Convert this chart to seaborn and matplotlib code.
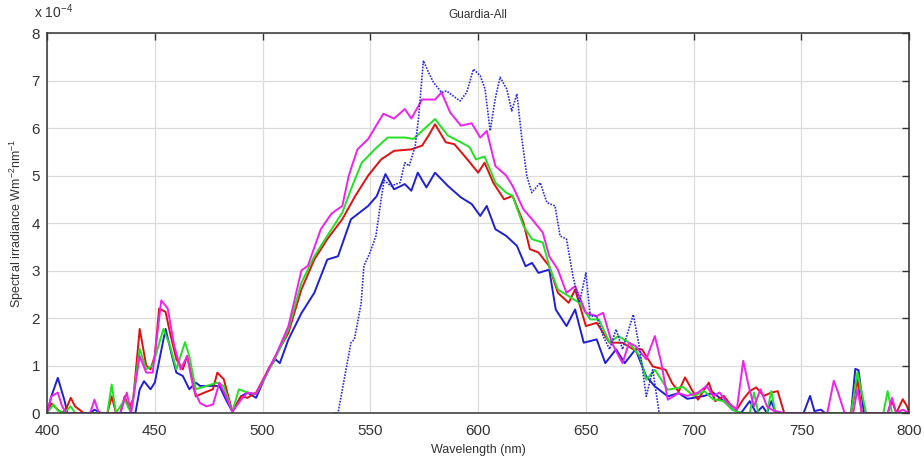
import numpy as np
import pandas as pd
import matplotlib
matplotlib.use("Agg")
import matplotlib.pyplot as plt
import seaborn as sns

# ---- data (spectral irradiance in units of 1e-4 W m^-2 nm^-1) ----
wl_blue = [400, 402, 405, 408, 409.5, 420, 422, 425, 441, 443, 445, 448, 450, 455, 458, 460, 463, 466, 469,
           471, 476, 480, 483, 486, 490, 493, 497, 503, 506, 508, 512, 518, 524, 530, 535, 541, 549, 553, 557,
           561, 566, 569, 572, 576, 580, 586, 592, 597, 601, 604, 608, 613, 618, 622, 625, 628, 633, 636, 641,
           645, 649, 655, 659, 664, 668, 673, 678, 682, 688, 693, 697, 700, 705, 709, 714, 718, 722, 726, 729,
           732, 734, 736, 738, 751, 754, 756, 759, 761, 773, 775, 776.5, 779, 800]
blue = [0, 0.35, 0.74, 0.28, 0, 0, 0.07, 0, 0, 0.5, 0.67, 0.5, 0.64, 1.77, 1.2, 0.85, 0.78, 0.5, 0.64,
        0.57, 0.57, 0.57, 0.28, 0.03, 0.35, 0.43, 0.32, 0.95, 1.13, 1.05, 1.55, 2.1, 2.53, 3.23, 3.3, 4.08, 4.36, 4.57, 5.03,
        4.71, 4.82, 4.68, 5.06, 4.75, 5.06, 4.78, 4.54, 4.4, 4.15, 4.36, 3.87, 3.73, 3.52, 3.09, 3.16, 2.95, 3.02, 2.18, 1.83,
        2.18, 1.48, 1.55, 1.05, 1.34, 1.05, 1.34, 0.77, 0.56, 0.35, 0.42, 0.3, 0.32, 0.36, 0.43, 0.25, 0.07, 0, 0.25, 0,
        0.14, 0, 0.25, 0, 0, 0.36, 0.04, 0.07, 0, 0, 0.93, 0.9, 0, 0]

wl_red = [400, 402, 405, 407, 409, 411, 413, 417, 428, 430, 432, 434, 436, 438, 440, 443, 446, 448, 450, 452,
          455, 457, 460, 463, 465, 467, 469, 473, 477, 479, 482, 486, 490, 493, 497, 506, 512, 518, 524, 530,
          537, 543, 549, 555, 561, 569, 574, 577, 580, 585, 589, 595, 600, 603, 607, 612, 616, 621, 624, 628,
          633, 637, 642, 645, 650, 655, 661, 667, 672, 676, 681, 687, 690, 693, 696, 699, 702, 707, 710, 714,
          717, 720, 723, 726, 729, 732.5, 736, 739, 742, 773, 776, 778, 790, 792, 794, 797, 799, 800]
red = [0, 0.2, 0.07, 0, 0.1, 0.32, 0.14, 0, 0, 0.35, 0, 0, 0.35, 0.1, 0.3, 1.77, 1.0, 0.92, 1.2, 2.2,
       2.13, 1.7, 1.13, 0.92, 1.2, 0.78, 0.35, 0.43, 0.5, 0.85, 0.71, 0.03, 0.35, 0.32, 0.43, 1.2, 1.69, 2.6, 3.23, 3.66,
       4.08, 4.57, 5.0, 5.34, 5.52, 5.55, 5.63, 5.84, 6.08, 5.7, 5.66, 5.34, 5.06, 5.27, 4.85, 4.5, 4.57, 4.01, 3.45, 3.38,
       3.09, 2.53, 2.32, 2.6, 1.83, 1.9, 1.48, 1.48, 1.34, 1.34, 0.98, 0.91, 0.63, 0.45, 0.75, 0.5, 0.28, 0.64, 0.25, 0.36,
       0.18, 0.07, 0.29, 0.46, 0.54, 0.36, 0.43, 0.46, 0, 0, 0.71, 0, 0, 0.25, 0, 0.29, 0.14, 0]

wl_green = [400, 403, 405, 408, 411, 413, 428, 430, 432, 436, 439, 443, 446, 449, 454, 457, 460, 464, 466, 469,
            474, 479, 482, 486, 489, 493, 497, 506, 512, 518, 524, 530, 537, 541, 546, 552, 558, 566, 570, 575,
            580, 586, 592, 596, 599, 603, 608, 613, 616, 621, 625, 630, 633, 637, 642, 647, 652, 656, 661, 665,
            670, 675, 678, 682, 688, 695, 700, 705, 709, 714, 718, 722, 726, 728, 730, 734, 736, 738, 773, 776,
            780, 788, 790, 792, 800]
green = [0, 0.18, 0.05, 0, 0.14, 0, 0, 0.6, 0, 0.28, 0, 1.35, 0.92, 1.0, 1.77, 1.42, 0.92, 1.49, 1.2, 0.5,
         0.57, 0.64, 0.57, 0.03, 0.5, 0.43, 0.4, 1.16, 1.76, 2.74, 3.3, 3.73, 4.22, 4.71, 5.27, 5.55, 5.8, 5.8, 5.77, 5.98,
         6.19, 5.84, 5.7, 5.6, 5.34, 5.4, 4.85, 4.64, 4.57, 3.94, 3.66, 3.59, 3.09, 2.6, 2.46, 2.32, 1.97, 1.97, 1.48, 1.62,
         1.48, 1.2, 0.7, 0.91, 0.49, 0.55, 0.36, 0.46, 0.29, 0.25, 0.07, 0, 0, 0.43, 0, 0, 0.46, 0, 0, 0.86,
         0, 0, 0.46, 0, 0]

wl_magenta = [400, 402, 405, 407, 409, 420, 422, 424, 434, 437, 439, 443, 446, 449, 453, 456, 459, 462, 465, 468,
              471, 474, 477, 480, 483, 486, 490, 493, 497, 506, 512, 518, 521, 527, 532, 537, 540, 544, 549, 556,
              561, 566, 569, 574, 580, 583, 587, 592, 597, 601, 604, 608, 613, 616, 621, 625, 630, 633, 637, 641,
              645, 650, 655, 658, 662, 667, 670, 673, 678, 682, 685, 688, 693, 697, 702, 706, 709, 712, 715, 720,
              723, 725.5, 728, 731, 734, 737, 742, 762, 765, 767, 770, 774, 776, 778, 790, 792, 794, 797, 800]
magenta = [0, 0.35, 0.43, 0.14, 0, 0, 0.28, 0, 0, 0.43, 0, 1.2, 0.85, 0.85, 2.37, 2.2, 1.42, 0.92, 1.2, 0.5,
           0.21, 0.14, 0.18, 0.64, 0.35, 0.03, 0.28, 0.43, 0.4, 1.2, 1.83, 3.0, 3.1, 3.87, 4.2, 4.36, 5.0, 5.55, 5.77, 6.3,
           6.2, 6.4, 6.2, 6.6, 6.6, 6.75, 6.33, 6.05, 6.1, 5.8, 5.94, 5.2, 5.0, 4.78, 4.29, 4.08, 3.8, 3.3, 3.02, 2.53,
           2.67, 2.11, 2.04, 2.11, 1.48, 1.05, 1.48, 1.41, 1.13, 1.62, 1.05, 0.28, 0.42, 0.36, 0.43, 0.57, 0.36, 0.43, 0.25, 0.07,
           1.1, 0.57, 0.14, 0.5, 0.14, 0.05, 0, 0, 0.68, 0.43, 0, 0, 0.5, 0, 0, 0.32, 0, 0.07, 0]

wl_blue_dot = [533, 535, 541, 542.6, 545.7, 547, 549.5, 552.6, 555, 556.4, 559.5, 563.8, 566, 568, 570.8, 572.3,
               574.6, 577, 579.3, 583, 585.4, 587.7, 591.6, 594.7, 597.8, 601, 603.2, 605.6, 607.9, 610.2, 613.3,
               615.6, 618, 620.3, 622.6, 624.9, 628.8, 631.9, 635.7, 638, 641, 644, 647, 650, 652, 655, 658, 661,
               664, 667, 672, 675, 678, 681, 684]
blue_dot = [0, 0, 1.48, 1.55, 2.3, 3.1, 3.34, 3.73, 4.5, 4.9, 4.78, 4.85, 5.27, 5.2, 5.62, 6.19,
            7.42, 7.17, 6.96, 6.75, 6.78, 6.7, 6.57, 6.75, 7.24, 7.1, 6.82, 5.94, 6.61, 7.07, 6.82,
            6.36, 6.72, 5.77, 4.99, 4.64, 4.85, 4.43, 4.36, 3.73, 3.66, 2.88, 2.32, 2.95, 2.04, 2.04, 1.62, 1.34,
            1.76, 1.34, 2.07, 1.34, 0.35, 0.91, 0]

x_ticks = [400, 450, 500, 550, 600, 650, 700, 750, 800]
y_ticks = [0, 1, 2, 3, 4, 5, 6, 7, 8]
title = "Guardia-All"
x_label = "Wavelength (nm)"
y_label = r"Spectral irradiance Wm$^{-2}$nm$^{-1}$"

# ---- plotting ----
sns.set_style("white")
plt.rcParams["font.family"] = ["Liberation Sans", "DejaVu Sans"]
plt.rcParams["mathtext.fontset"] = "custom"
plt.rcParams["mathtext.rm"] = "Liberation Sans"
plt.rcParams["mathtext.it"] = "Liberation Sans"

fig = plt.figure(figsize=(9.24, 4.59), dpi=100)
ax = fig.add_axes([0.0509, 0.1002, 0.9331, 0.8278])

series = [
    (wl_blue, blue, "#1f1fd8", "-", 1.4),
    (wl_red, red, "#e01010", "-", 1.4),
    (wl_green, green, "#22e022", "-", 1.4),
    (wl_magenta, magenta, "#ee22ee", "-", 1.4),
    (wl_blue_dot, blue_dot, "#2a2ae6", (0, (1, 0.8)), 1.2),
]
for wl, vals, col, ls, lw in series:
    df = pd.DataFrame({"wl": wl, "val": np.array(vals) * 1e-4})
    sns.lineplot(data=df, x="wl", y="val", ax=ax, color=col, linestyle=ls,
                 linewidth=lw, sort=False, estimator=None)

ax.set_xlim(400, 800)
ax.set_ylim(0, 8e-4)
ax.set_xticks(x_ticks)
ax.set_yticks([t * 1e-4 for t in y_ticks])
ax.set_xticklabels([str(t) for t in x_ticks])
ax.set_yticklabels([str(t) for t in y_ticks])
ax.grid(True, color="#dcdcdc", linewidth=0.9)
ax.set_axisbelow(True)
for s in ax.spines.values():
    s.set_color("#333333")
    s.set_linewidth(1.1)
ax.tick_params(direction="in", length=5, width=1, top=True, right=True,
               labelsize=11, colors="#333333")
ax.tick_params(axis="x", pad=8)
ax.tick_params(axis="y", pad=5)
ax.set_xlabel(x_label, fontsize=9, labelpad=4, color="#333333")
ax.set_ylabel(y_label, fontsize=9, labelpad=4, color="#333333")
ax.set_title(title, fontsize=8.5, pad=11, color="#333333")
fig.text(0.037, 0.955, r"x 10$^{-4}$", fontsize=10, color="#333333", ha="left", va="bottom")

fig.savefig("out.png", dpi=100)
